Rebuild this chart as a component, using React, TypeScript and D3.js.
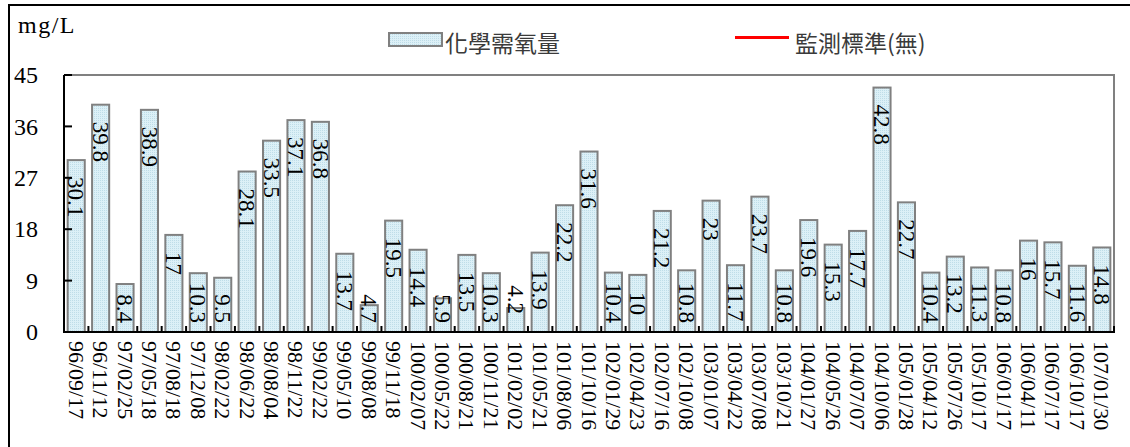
import * as d3 from 'd3';
import { useEffect, useRef } from 'react';

// sampling dates (ROC calendar) and COD readings in mg/L
const dates = [
  '96/09/17', '96/11/12', '97/02/25', '97/05/18', '97/08/18', '97/12/08', '98/02/22',
  '98/06/22', '98/08/04', '98/11/22', '99/02/22', '99/05/10', '99/08/08', '99/11/18',
  '100/02/07', '100/05/22', '100/08/21', '100/11/21', '101/02/02', '101/05/21', '101/08/06',
  '101/10/16', '102/01/29', '102/04/23', '102/07/16', '102/10/08', '103/01/07', '103/04/22',
  '103/07/08', '103/10/21', '104/01/27', '104/05/26', '104/07/07', '104/10/06', '105/01/28',
  '105/04/12', '105/07/26', '105/10/17', '106/01/17', '106/04/11', '106/07/17', '106/10/17',
  '107/01/30',
];

const cod = [
  30.1, 39.8, 8.4, 38.9, 17, 10.3, 9.5, 28.1, 33.5, 37.1, 36.8, 13.7, 4.7, 19.5, 14.4, 5.9,
  13.5, 10.3, 4.2, 13.9, 22.2, 31.6, 10.4, 10, 21.2, 10.8, 23, 11.7, 23.7, 10.8, 19.6, 15.3,
  17.7, 42.8, 22.7, 10.4, 13.2, 11.3, 10.8, 16, 15.7, 11.6, 14.8,
];

const yTicks = [0, 9, 18, 27, 36, 45];

const seriesName = '化學需氧量';
const standardName = '監測標準(無)';
const unitLabel = 'mg/L';

const W = 1130;
const H = 447;
const SERIF = 'Liberation Serif, serif';
const CJK = 'Noto Sans CJK TC, Noto Sans, sans-serif';

export default function App() {
  const svgRef = useRef<SVGSVGElement>(null);

  useEffect(() => {
    if (!svgRef.current) return;
    const svg = d3.select(svgRef.current);
    svg.selectAll('*').remove();

    const left = 64;
    const right = 1114;
    const top = 75;
    const bottom = 332;

    const x = d3.scaleBand<string>().domain(dates).range([left, right]).paddingInner(0.3).paddingOuter(0.15);
    const y = d3.scaleLinear().domain([0, 45]).range([bottom, top]);

    // dotted light blue fill like the excel pattern
    const defs = svg.append('defs');
    const pat = defs
      .append('pattern')
      .attr('id', 'codFill')
      .attr('width', 2)
      .attr('height', 2)
      .attr('patternUnits', 'userSpaceOnUse');
    pat.append('rect').attr('width', 2).attr('height', 2).attr('fill', '#dcf0f7');
    pat.append('rect').attr('width', 1).attr('height', 1).attr('fill', '#bfdde8');

    // outer frame (runs off the right/bottom edge)
    svg
      .append('rect')
      .attr('x', 9)
      .attr('y', 5)
      .attr('width', W + 20)
      .attr('height', H + 20)
      .attr('fill', 'white')
      .attr('stroke', '#000')
      .attr('stroke-width', 2);

    svg
      .append('text')
      .attr('x', 18)
      .attr('y', 33)
      .style('font-family', SERIF)
      .attr('font-size', 24)
      .attr('letter-spacing', 1.5)
      .text(unitLabel);

    // legend
    const lg = svg.append('g');
    lg.append('rect')
      .attr('x', 389)
      .attr('y', 33)
      .attr('width', 53)
      .attr('height', 13)
      .attr('fill', 'url(#codFill)')
      .attr('stroke', '#808080')
      .attr('stroke-width', 2);
    lg.append('text')
      .attr('x', 445)
      .attr('y', 42)
      .attr('dominant-baseline', 'central')
      .style('font-family', CJK)
      .attr('font-size', 23)
      .attr('fill', '#3a3a3a')
      .text(seriesName);
    lg.append('line')
      .attr('x1', 735)
      .attr('x2', 789)
      .attr('y1', 37.5)
      .attr('y2', 37.5)
      .attr('stroke', '#ff0000')
      .attr('stroke-width', 3);
    lg.append('text')
      .attr('x', 795)
      .attr('y', 42)
      .attr('dominant-baseline', 'central')
      .style('font-family', CJK)
      .attr('font-size', 23)
      .attr('fill', '#3a3a3a')
      .text(standardName);

    // plot area border (grey top/right)
    svg
      .append('path')
      .attr('d', `M${left},${top}H${right}V${bottom}`)
      .attr('fill', 'none')
      .attr('stroke', '#808080')
      .attr('stroke-width', 2);

    // bars
    svg
      .append('g')
      .selectAll('rect')
      .data(cod)
      .enter()
      .append('rect')
      .attr('x', (_d, i) => x(dates[i])!)
      .attr('y', (d) => y(d))
      .attr('width', x.bandwidth())
      .attr('height', (d) => y(0) - y(d))
      .attr('fill', 'url(#codFill)')
      .attr('stroke', '#808080')
      .attr('stroke-width', 2);

    // value labels, rotated, inside the bar top
    const labelSize = 23;
    svg
      .append('g')
      .selectAll('text')
      .data(cod)
      .enter()
      .append('text')
      .attr('transform', (d, i) => {
        const s = String(d);
        const len = (s.replace('.', '').length * 0.5 + (s.includes('.') ? 0.25 : 0)) * labelSize;
        let start = y(d) + 17;
        if (start + len > bottom - 9) start = bottom - 9 - len;
        // too short to hold the label: excel pushes it above the bar
        if (y(0) - y(d) < len - 4) start = Math.min(start, y(d) - len + 6);
        const cx = x(dates[i])! + x.bandwidth() / 2;
        return `translate(${cx},${start}) rotate(90)`;
      })
      .attr('dy', '0.34em')
      .style('font-family', SERIF)
      .attr('font-size', labelSize)
      .text((d) => String(d));

    // y axis
    svg
      .append('line')
      .attr('x1', left)
      .attr('x2', left)
      .attr('y1', top)
      .attr('y2', bottom)
      .attr('stroke', '#000')
      .attr('stroke-width', 2);
    const yg = svg.append('g');
    yg.selectAll('line')
      .data(yTicks)
      .enter()
      .append('line')
      .attr('x1', left)
      .attr('x2', left + 8)
      .attr('y1', (d) => y(d))
      .attr('y2', (d) => y(d))
      .attr('stroke', '#000')
      .attr('stroke-width', 2);
    yg.selectAll('text')
      .data(yTicks)
      .enter()
      .append('text')
      .attr('x', 38)
      .attr('y', (d) => y(d))
      .attr('dy', '0.34em')
      .attr('text-anchor', 'end')
      .style('font-family', SERIF)
      .attr('font-size', 24)
      .text((d) => String(d));

    // x axis
    svg
      .append('line')
      .attr('x1', left - 1)
      .attr('x2', right + 1)
      .attr('y1', bottom)
      .attr('y2', bottom)
      .attr('stroke', '#000')
      .attr('stroke-width', 2);
    const step = x.step();
    const bounds = dates.map((d) => x(d)! - step * 0.15).concat([right]);
    svg
      .append('g')
      .selectAll('line')
      .data(bounds)
      .enter()
      .append('line')
      .attr('x1', (d) => d)
      .attr('x2', (d) => d)
      .attr('y1', bottom)
      .attr('y2', bottom - 6)
      .attr('stroke', '#000')
      .attr('stroke-width', 2);
    svg
      .append('g')
      .selectAll('text')
      .data(dates)
      .enter()
      .append('text')
      .attr('transform', (d) => `translate(${x(d)! + x.bandwidth() / 2},341) rotate(90)`)
      .attr('dy', '0.34em')
      .style('font-family', SERIF)
      .attr('font-size', 22)
      .text((d) => d);
  }, []);

  return (
    <div style={{ position: 'fixed', left: 0, top: 0, width: W, height: H, background: 'white' }}>
      <svg ref={svgRef} width={W} height={H} />
    </div>
  );
}
